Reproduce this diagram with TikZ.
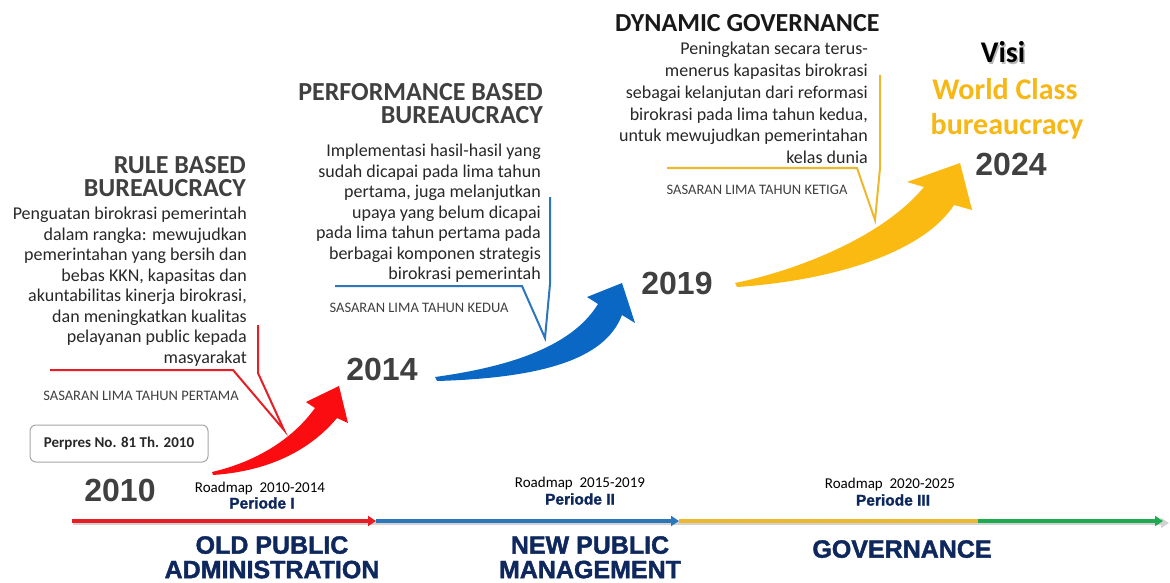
\documentclass[tikz,border=0pt]{standalone}
\usepackage{fontspec}
\setmainfont{Carlito}
\newfontfamily\arialfont{Liberation Sans}
\newfontfamily\blackfont[FakeBold=1.6]{Liberation Sans}
\usetikzlibrary{arrows.meta,positioning}
\definecolor{teksAbu}  {RGB}{64, 64, 64}
\definecolor{teksIsi}  {RGB}{40, 40, 40}
\definecolor{navy}     {RGB}{14, 40, 94}
\definecolor{rbMerah}  {RGB}{250, 12, 16}
\definecolor{rbBiru}   {RGB}{10, 104, 196}
\definecolor{rbKuning} {RGB}{250, 186, 18}
\definecolor{lnMerah}  {RGB}{232, 30, 36}
\definecolor{lnBiru}   {RGB}{44, 118, 188}
\definecolor{lnKuning} {RGB}{238, 184, 46}
\definecolor{lnHijau}  {RGB}{30, 170, 80}
\definecolor{visiEmas} {RGB}{247, 183, 20}

\begin{document}
\begin{tikzpicture}[x=1pt,y=-1pt,
    judul/.style={font=\bfseries\fontsize{26}{23.5}\selectfont,text=teksAbu,
                  align=right,inner sep=0},
    isi/.style={font=\fontsize{18}{20.5}\selectfont,text=teksIsi,
                align=right,inner sep=0},
    sasaran/.style={font=\fontsize{14.5}{16}\selectfont,text=teksAbu,inner sep=0},
    tahun/.style={font=\arialfont\bfseries\fontsize{32}{32}\selectfont,
                  text=teksAbu,inner sep=0},
    roadmap/.style={font=\fontsize{15}{16}\selectfont,inner sep=0},
    periode/.style={font=\blackfont\bfseries\fontsize{15.5}{16}\selectfont,
                    text=navy,inner sep=0},
    era/.style={font=\blackfont\bfseries\fontsize{25}{24.5}\selectfont,
                text=navy,align=center,inner sep=0},
    visi/.style={font=\bfseries\fontsize{30}{33}\selectfont,inner sep=0},
    callout/.style={line width=2pt,line join=miter},
    garis/.style={line width=4.5pt},
    tip/.style={-{Triangle[length=8pt,width=10pt]}}]
  \useasboundingbox[fill=white] (0,0) rectangle (1170,583);

  % tiga anak panah melengkung
  \fill[rbMerah] (212,472) .. controls (255,462) and (292,440) .. (315,408)
    -- (306,402) -- (339,386) -- (348,423) -- (337,418)
    .. controls (312,448) and (272,471) .. (213,475) -- cycle;
  \fill[rbBiru] (435,377) .. controls (500,368) and (570,350) .. (598,304)
    -- (587,297) -- (622,283) -- (635,323) -- (622,315)
    .. controls (605,360) and (540,378) .. (437,381) -- cycle;
  \fill[rbKuning] (735,283) .. controls (790,272) and (880,240) .. (924,187)
    -- (907,182) -- (960,163) -- (972,210) -- (954,205)
    .. controls (925,250) and (840,280) .. (737,287) -- cycle;

  % balon keterangan
  \draw[callout,lnMerah] (50,370) -- (233,370) -- (284,430) -- (258,373) -- (258,325);
  \draw[callout,lnBiru] (335,286) -- (522,286) -- (545,338) -- (550,284) -- (550,197);
  \draw[callout,lnKuning] (667,168) -- (857,168) -- (875,220) -- (880,168) -- (880,75);

  % periode I
  \node[judul,anchor=north east] (rbJudul) at (246,156) {RULE BASED\\BUREAUCRACY};
  \node[isi,anchor=north east] (rbIsi) at (247,207)
    {Penguatan birokrasi pemerintah\\dalam rangka: mewujudkan\\
     pemerintahan yang bersih dan\\bebas KKN, kapasitas dan\\
     akuntabilitas kinerja birokrasi,\\dan meningkatkan kualitas\\
     pelayanan public kepada\\masyarakat};
  \node[sasaran] (rbSas) at (141,396) {SASARAN LIMA TAHUN PERTAMA};
  \node[draw=gray!70,line width=1pt,rounded corners=6pt,minimum width=178,
        minimum height=37,font=\bfseries\fontsize{15}{16}\selectfont,text=teksIsi]
        (perpres) at (119,443.5) {Perpres No. 81 Th. 2010};

  % periode II
  \node[judul,anchor=north east] (pbJudul) at (543,83) {PERFORMANCE BASED\\BUREAUCRACY};
  \node[isi,anchor=north east] (pbIsi) at (541,144)
    {Implementasi hasil-hasil yang\\sudah dicapai pada lima tahun\\
     pertama, juga melanjutkan\\upaya yang belum dicapai\\
     pada lima tahun pertama pada\\berbagai komponen strategis\\
     birokrasi pemerintah};
  \node[sasaran] (pbSas) at (419,308) {SASARAN LIMA TAHUN KEDUA};

  % periode III
  \node[judul,text=black!90,anchor=north west] (dgJudul) at (615,14) {DYNAMIC GOVERNANCE};
  \node[isi,font=\fontsize{18}{21.8}\selectfont,anchor=north east] (dgIsi) at (868,42)
    {Peningkatan secara terus-\\menerus kapasitas birokrasi\\
     sebagai kelanjutan dari reformasi\\birokrasi pada lima tahun kedua,\\
     untuk mewujudkan pemerintahan\\kelas dunia};
  \node[sasaran] (dgSas) at (757,190) {SASARAN LIMA TAHUN KETIGA};

  % tahun
  \node[tahun] (th2010) at (120,490) {2010};
  \node[tahun] (th2014) at (382,369) {2014};
  \node[tahun] (th2019) at (677,283) {2019};
  \node[tahun] (th2024) at (1011,164) {2024};

  % visi
  \node[visi,text=gray!55,anchor=base] at (1004.5,64.5) {Visi};
  \node[visi,anchor=base] (visi) at (1003,63) {Visi};
  \node[visi,text=visiEmas,anchor=base] (wcb1) at (1005,100) {World Class};
  \node[visi,text=visiEmas,anchor=base] (wcb2) at (1007,135) {bureaucracy};

  % garis waktu
  \coordinate (t0) at (72,521);
  \coordinate (t1) at (376,521);
  \coordinate (t2) at (679,521);
  \coordinate (t3) at (978,521);
  \coordinate (t4) at (1163,521);
  \draw[garis,gray!35,tip] (73,523) -- (1169,523);
  \draw[garis,lnHijau,tip] (t3) -- (t4);
  \draw[garis,lnKuning] (t2) -- (t3);
  \draw[garis,lnBiru,tip] (t1) -- (t2);
  \draw[garis,lnMerah,tip] (t0) -- (t1);

  \node[roadmap] (rm1) at (260,488) {Roadmap\ \ 2010-2014};
  \node[periode] (p1) at (262,503) {Periode I};
  \node[roadmap] (rm2) at (580,483) {Roadmap\ \ 2015-2019};
  \node[periode] (p2) at (580,499) {Periode II};
  \node[roadmap] (rm3) at (890,484) {Roadmap\ \ 2020-2025};
  \node[periode] (p3) at (893,500) {Periode III};

  \node[era,anchor=north] (opa) at (272,536) {OLD PUBLIC\\ADMINISTRATION};
  \node[era,anchor=north] (npm) at (590,536) {NEW PUBLIC\\MANAGEMENT};
  \node[era,anchor=north] (gov) at (902,540) {GOVERNANCE};
\end{tikzpicture}
\end{document}
